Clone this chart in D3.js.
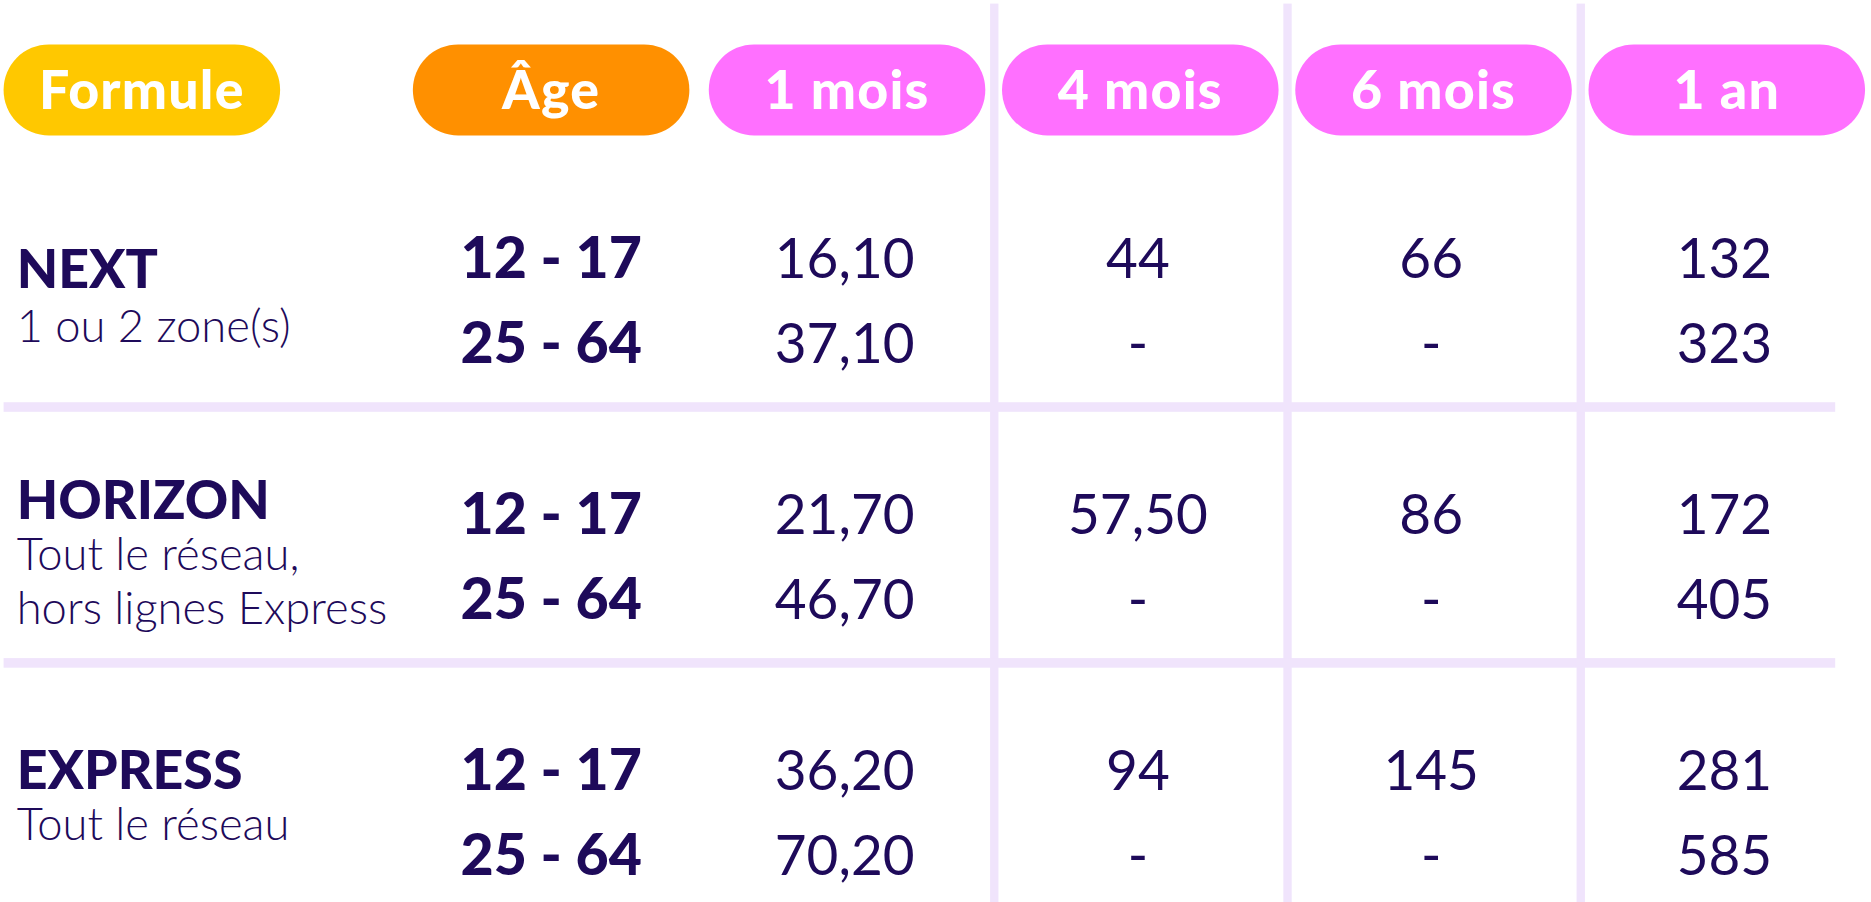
<!DOCTYPE html>
<html><head><meta charset="utf-8">
<script src="https://cdn.jsdelivr.net/npm/d3@7"></script>
<style>body{margin:0;background:#fff}</style></head>
<body><div id="frame"></div>
<script>
const headers = ["Formule", "Âge", "1 mois", "4 mois", "6 mois", "1 an"];
const formules = ["NEXT", "HORIZON", "EXPRESS"];
const subtitles = [["1 ou 2 zone(s)"], ["Tout le réseau,", "hors lignes Express"], ["Tout le réseau"]];
const ages = ["12 - 17", "25 - 64"];
const prix1mois = [["16,10", "37,10"], ["21,70", "46,70"], ["36,20", "70,20"]];
const prix4mois = [["44", "-"], ["57,50", "-"], ["94", "-"]];
const prix6mois = [["66", "-"], ["86", "-"], ["145", "-"]];
const prix1an = [["132", "323"], ["172", "405"], ["281", "585"]];

const W = 1568, H = 752;
const navy = "#1E0A5A", line = "#F0E4FC";
const pillColors = ["#FFC800", "#FF9000", "#FF70FF", "#FF70FF", "#FF70FF", "#FF70FF"];
const font = "'Lato', 'DejaVu Sans', sans-serif";
// label offsets inside each block
const titleDy = [115, 94, 106];
const subDy = [160, 137, 149];

let svg = d3.select("#frame").append("svg")
    .attr("width", 1871).attr("height", 902)
    .attr("viewBox", "0 0 " + W + " " + H)
    .attr("preserveAspectRatio", "none");

let valCols = ["1 mois", "4 mois", "6 mois", "1 an"];
let col = d3.scaleBand().domain(valCols).range([594, 1563]).paddingInner(0.057).paddingOuter(0);
let pw = col.bandwidth();
let colX = h => h == "Formule" ? 3 : h == "Âge" ? 346 : col(h);

let block = d3.scaleBand().domain(formules).range([125, 765]);

// grid lines
valCols.slice(1).forEach(h => {
    svg.append("rect").attr("x", colX(h) - 10).attr("y", 3).attr("width", 7).attr("height", H)
        .attr("fill", line);
});
formules.slice(1).forEach(f => {
    svg.append("rect").attr("x", 3).attr("y", block(f) - 3).attr("width", 1535).attr("height", 8)
        .attr("fill", line);
});

// header pills
headers.forEach((h, i) => {
    svg.append("rect").attr("x", colX(h)).attr("y", 37).attr("width", pw).attr("height", 76)
        .attr("rx", 38).attr("fill", pillColors[i]);
    svg.append("text").attr("x", colX(h) + pw / 2).attr("y", 91)
        .attr("text-anchor", "middle").attr("fill", "#fff")
        .style("font-family", font).style("font-weight", 900).style("font-size", "45px")
        .style("letter-spacing", "1px").text(h);
});

let cols = [prix1mois, prix4mois, prix6mois, prix1an];
formules.forEach((f, bi) => {
    let y0 = block(f);
    svg.append("text").attr("x", 14).attr("y", y0 + titleDy[bi])
        .attr("fill", navy).style("font-family", font).style("font-weight", 900)
        .style("font-size", "45px").text(f);
    subtitles[bi].forEach((s, si) => {
        svg.append("text").attr("x", 14).attr("y", y0 + subDy[bi] + si * 45)
            .attr("fill", navy).style("font-family", font).style("font-weight", 300)
            .style("font-size", "38px").text(s);
    });
    ages.forEach((a, ai) => {
        let y = y0 + 107 + ai * 71;
        svg.append("text").attr("x", 462).attr("y", y).attr("text-anchor", "middle")
            .attr("fill", navy).style("font-family", font).style("font-weight", 900)
            .style("font-size", "48px").text(a);
        valCols.forEach((c, ci) => {
            svg.append("text").attr("x", colX(c) + pw / 2 - 2).attr("y", y).attr("text-anchor", "middle")
                .attr("fill", navy).style("font-family", font).style("font-weight", 400)
                .style("font-size", "46px").text(cols[ci][bi][ai]);
        });
    });
});
</script></body></html>
